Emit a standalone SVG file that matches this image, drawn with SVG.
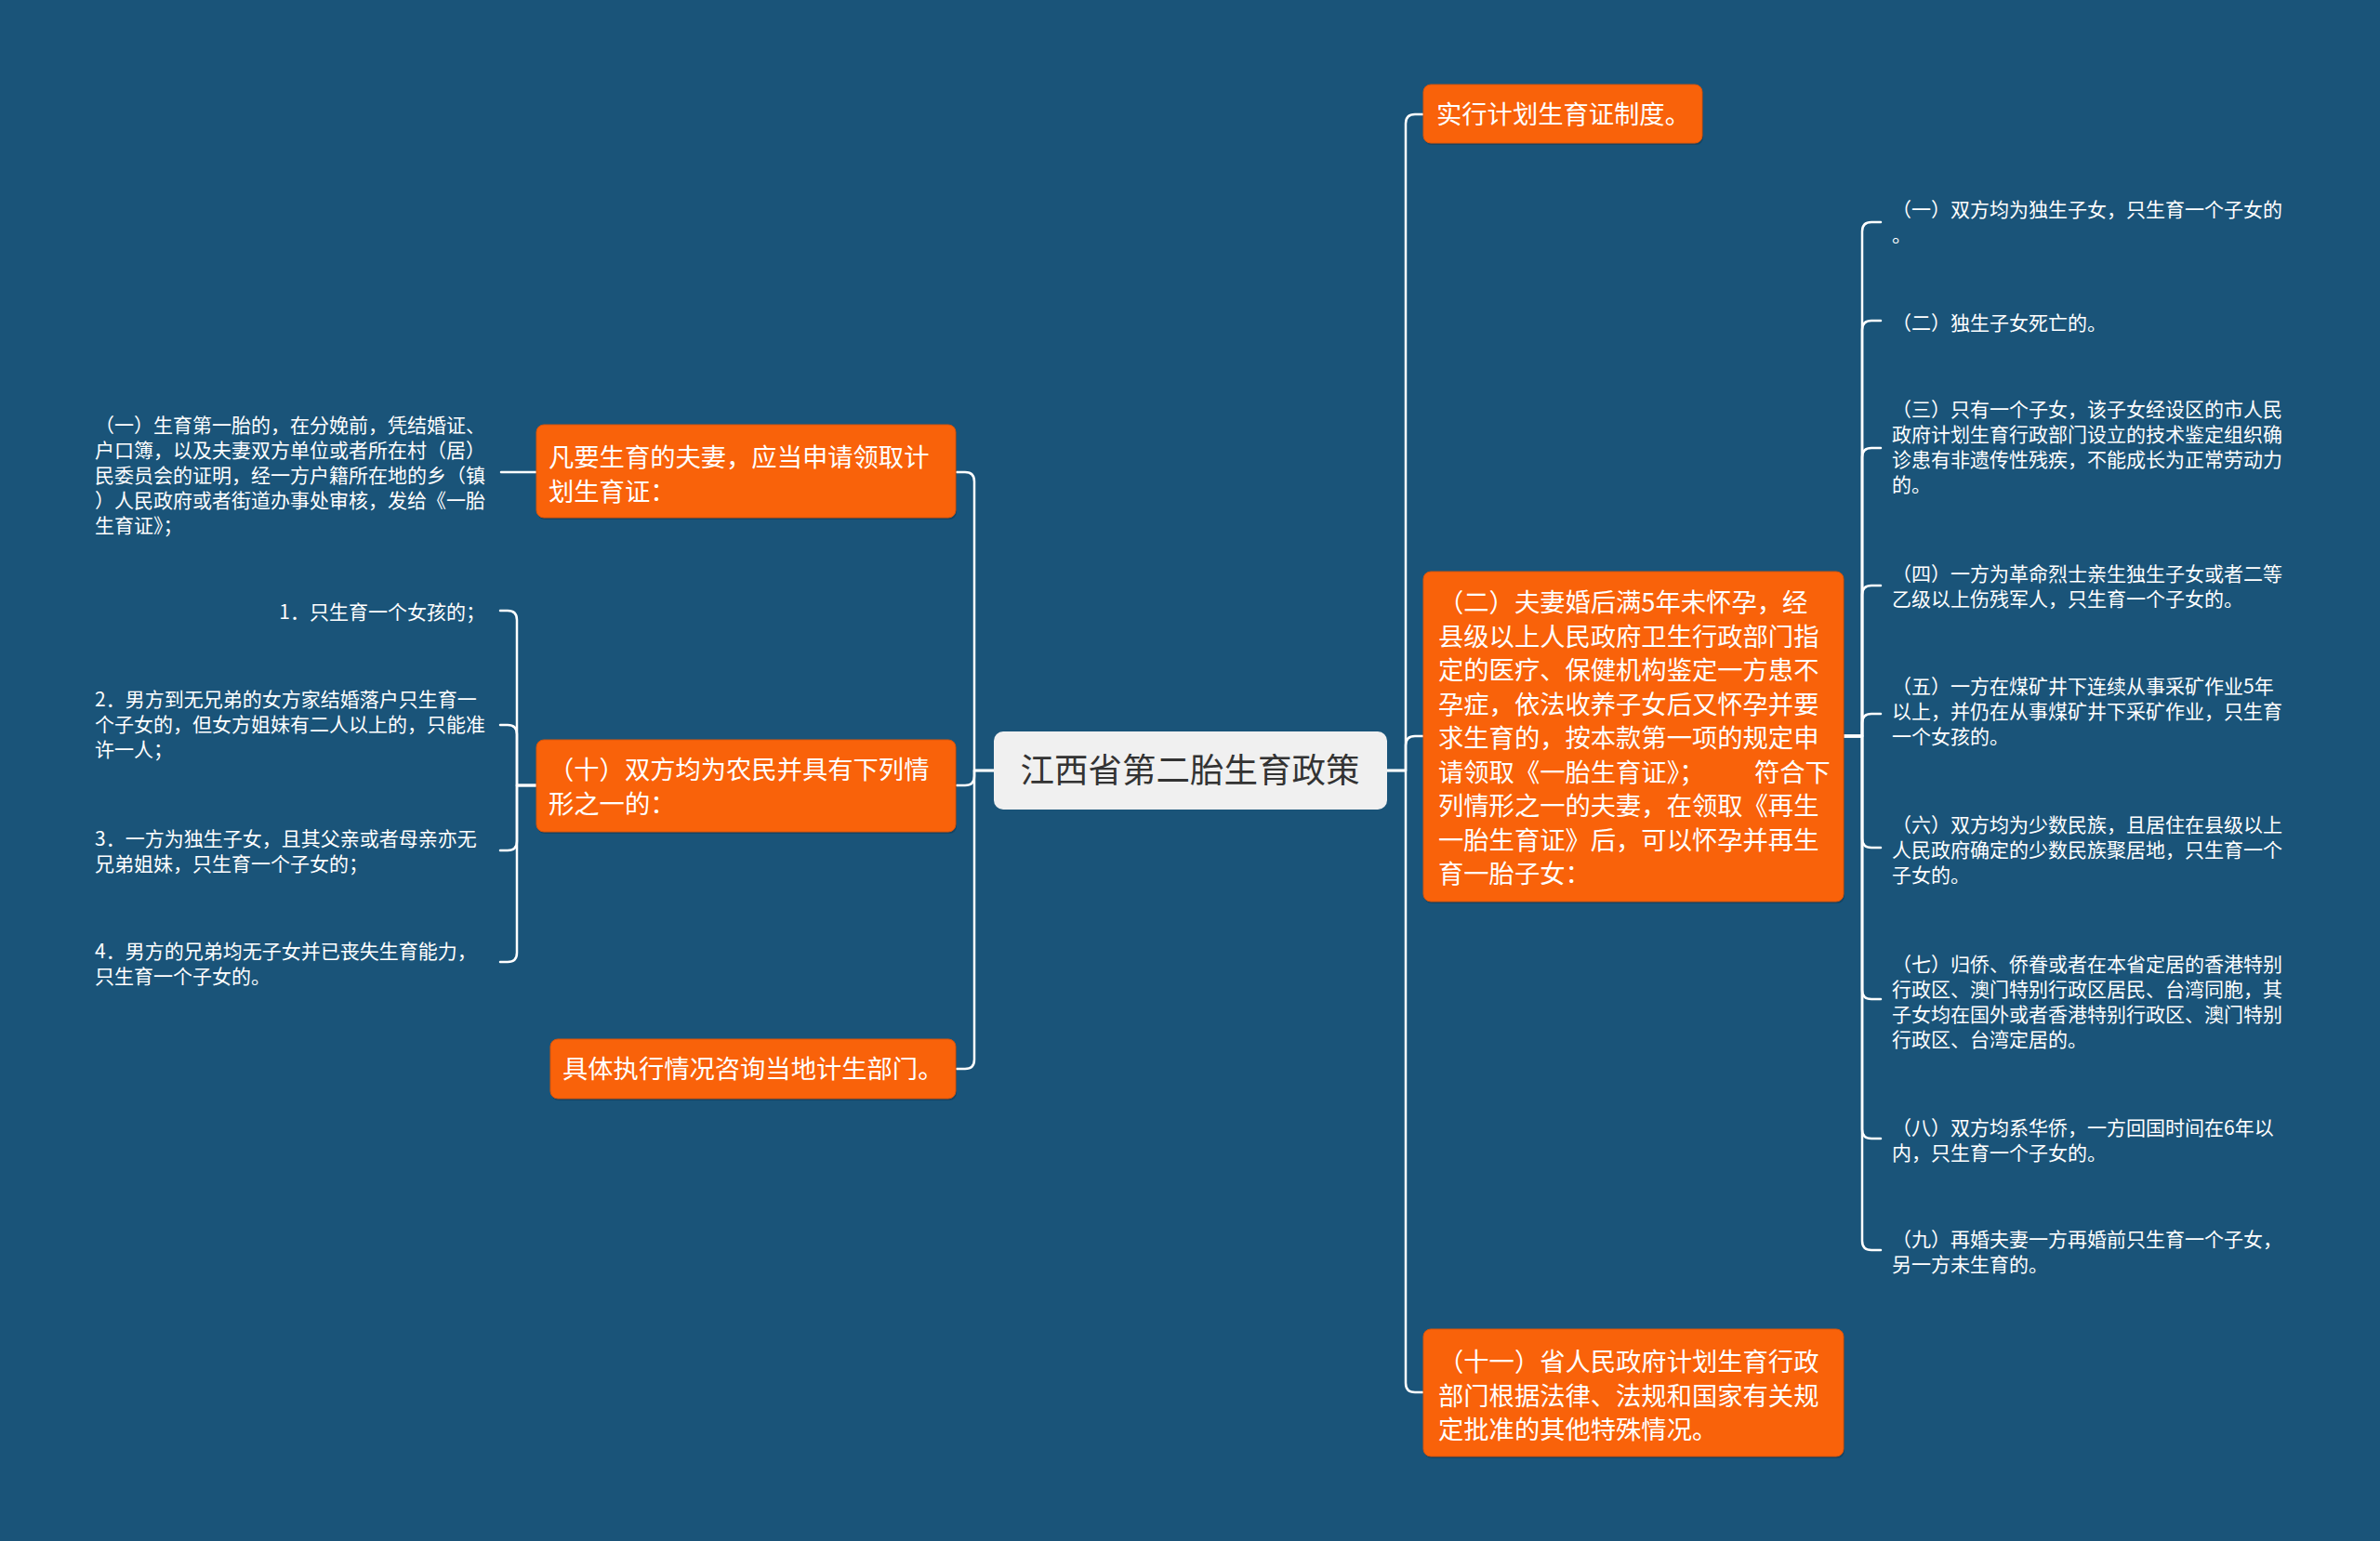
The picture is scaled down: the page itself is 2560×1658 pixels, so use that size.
<svg xmlns="http://www.w3.org/2000/svg" width="2560" height="1658" viewBox="0 0 2560 1658">
<style>
.bg{fill:#1a5479}
.box{fill:#f9620a;stroke:#d9540a;stroke-width:1}
.shadow{fill:#000;opacity:0.18}
.t{font-family:"Noto Sans CJK SC","Noto Sans",sans-serif;fill:#ffffff}
.nt{font-size:27.3px}
.st{font-size:21px}
.ct{font-family:"Noto Sans CJK SC","Noto Sans",sans-serif;font-size:36.5px;fill:#333333}
.c{fill:none;stroke:#ffffff;stroke-width:2.5;stroke-linecap:round;stroke-linejoin:round}
</style>
<rect class="bg" x="0" y="0" width="2560" height="1658"/>
<g id="connectors">
  <path class="c" d="M1492,829 H1512 V133 Q1512,123 1522,123 H1531"/>
  <path class="c" d="M1492,829 H1512 V802 Q1512,792 1522,792 H1531"/>
  <path class="c" d="M1492,829 H1512 V1488 Q1512,1498 1522,1498 H1531"/>
  <path class="c" d="M1983,792 H2003 V249 Q2003,239 2013,239 H2023"/>
  <path class="c" d="M1983,792 H2003 V355 Q2003,345 2013,345 H2023"/>
  <path class="c" d="M1983,792 H2003 V492 Q2003,482 2013,482 H2023"/>
  <path class="c" d="M1983,792 H2003 V640 Q2003,630 2013,630 H2023"/>
  <path class="c" d="M1983,792 H2003 V778 Q2003,768 2013,768 H2023"/>
  <path class="c" d="M1983,792 H2003 V902 Q2003,912 2013,912 H2023"/>
  <path class="c" d="M1983,792 H2003 V1065 Q2003,1075 2013,1075 H2023"/>
  <path class="c" d="M1983,792 H2003 V1215 Q2003,1225 2013,1225 H2023"/>
  <path class="c" d="M1983,792 H2003 V1335 Q2003,1345 2013,1345 H2023"/>
  <path class="c" d="M1069,829 H1048 V518 Q1048,508 1038,508 H1029"/>
  <path class="c" d="M1069,829 H1048 V835 Q1048,845 1038,845 H1029"/>
  <path class="c" d="M1069,829 H1048 V1140 Q1048,1150 1038,1150 H1029"/>
  <path class="c" d="M577,508 H539"/>
  <path class="c" d="M577,845 H556 V667 Q556,657 546,657 H538"/>
  <path class="c" d="M577,845 H556 V790 Q556,780 546,780 H538"/>
  <path class="c" d="M577,845 H556 V905 Q556,915 546,915 H538"/>
  <path class="c" d="M577,845 H556 V1025 Q556,1035 546,1035 H538"/>
</g>

<g id="central">
  <rect x="1069" y="787" width="423" height="84" rx="10" fill="#f0f0f0"/>
  <text class="ct" x="1280" y="842" text-anchor="middle">江西省第二胎生育政策</text>
</g>

<g id="r1">
  <rect class="shadow" x="1532" y="93" width="300" height="63" rx="8"/>
  <rect class="box" x="1531" y="91" width="300" height="63" rx="8"/>
  <text class="t nt" x="1545" y="133">实行计划生育证制度。</text>
</g>

<g id="r2">
  <rect class="shadow" x="1532" y="617" width="452" height="355" rx="8"/>
  <rect class="box" x="1531" y="615" width="452" height="355" rx="8"/>
  <text class="t nt">
    <tspan x="1547" y="658">（二）夫妻婚后满5年未怀孕，经</tspan>
    <tspan x="1547" y="694.5">县级以上人民政府卫生行政部门指</tspan>
    <tspan x="1547" y="731">定的医疗、保健机构鉴定一方患不</tspan>
    <tspan x="1547" y="767.5">孕症，依法收养子女后又怀孕并要</tspan>
    <tspan x="1547" y="804">求生育的，按本款第一项的规定申</tspan>
    <tspan x="1547" y="840.5">请领取《一胎生育证》；</tspan><tspan x="1887" y="840.5">符合下</tspan>
    <tspan x="1547" y="877">列情形之一的夫妻，在领取《再生</tspan>
    <tspan x="1547" y="913.5">一胎生育证》后，可以怀孕并再生</tspan>
    <tspan x="1547" y="950">育一胎子女：</tspan>
  </text>
</g>

<g id="r3">
  <rect class="shadow" x="1532" y="1432" width="452" height="137" rx="8"/>
  <rect class="box" x="1531" y="1430" width="452" height="137" rx="8"/>
  <text class="t nt">
    <tspan x="1547" y="1475">（十一）省人民政府计划生育行政</tspan>
    <tspan x="1547" y="1511.5">部门根据法律、法规和国家有关规</tspan>
    <tspan x="1547" y="1548">定批准的其他特殊情况。</tspan>
  </text>
</g>

<g id="r2c1"><text class="t st"><tspan x="2035" y="233">（一）双方均为独生子女，只生育一个子女的</tspan><tspan x="2035" y="260">。</tspan></text></g>
<g id="r2c2"><text class="t st"><tspan x="2035" y="355">（二）独生子女死亡的。</tspan></text></g>
<g id="r2c3"><text class="t st">
  <tspan x="2035" y="448">（三）只有一个子女，该子女经设区的市人民</tspan>
  <tspan x="2035" y="475">政府计划生育行政部门设立的技术鉴定组织确</tspan>
  <tspan x="2035" y="502">诊患有非遗传性残疾，不能成长为正常劳动力</tspan>
  <tspan x="2035" y="529">的。</tspan></text></g>
<g id="r2c4"><text class="t st">
  <tspan x="2035" y="625">（四）一方为革命烈士亲生独生子女或者二等</tspan>
  <tspan x="2035" y="652">乙级以上伤残军人，只生育一个子女的。</tspan></text></g>
<g id="r2c5"><text class="t st">
  <tspan x="2035" y="746">（五）一方在煤矿井下连续从事采矿作业5年</tspan>
  <tspan x="2035" y="773">以上，并仍在从事煤矿井下采矿作业，只生育</tspan>
  <tspan x="2035" y="800">一个女孩的。</tspan></text></g>
<g id="r2c6"><text class="t st">
  <tspan x="2035" y="895">（六）双方均为少数民族，且居住在县级以上</tspan>
  <tspan x="2035" y="922">人民政府确定的少数民族聚居地，只生育一个</tspan>
  <tspan x="2035" y="949">子女的。</tspan></text></g>
<g id="r2c7"><text class="t st">
  <tspan x="2035" y="1045">（七）归侨、侨眷或者在本省定居的香港特别</tspan>
  <tspan x="2035" y="1072">行政区、澳门特别行政区居民、台湾同胞，其</tspan>
  <tspan x="2035" y="1099">子女均在国外或者香港特别行政区、澳门特别</tspan>
  <tspan x="2035" y="1126">行政区、台湾定居的。</tspan></text></g>
<g id="r2c8"><text class="t st">
  <tspan x="2035" y="1221">（八）双方均系华侨，一方回国时间在6年以</tspan>
  <tspan x="2035" y="1248">内，只生育一个子女的。</tspan></text></g>
<g id="r2c9"><text class="t st">
  <tspan x="2035" y="1341">（九）再婚夫妻一方再婚前只生育一个子女，</tspan>
  <tspan x="2035" y="1368">另一方未生育的。</tspan></text></g>

<g id="l1">
  <rect class="shadow" x="578" y="459" width="451" height="100" rx="8"/>
  <rect class="box" x="577" y="457" width="451" height="100" rx="8"/>
  <text class="t nt">
    <tspan x="590" y="502">凡要生育的夫妻，应当申请领取计</tspan>
    <tspan x="590" y="538.5">划生育证：</tspan>
  </text>
</g>
<g id="l1c1"><text class="t st">
  <tspan x="102" y="465">（一）生育第一胎的，在分娩前，凭结婚证、</tspan>
  <tspan x="102" y="492">户口簿，以及夫妻双方单位或者所在村（居）</tspan>
  <tspan x="102" y="519">民委员会的证明，经一方户籍所在地的乡（镇</tspan>
  <tspan x="102" y="546">）人民政府或者街道办事处审核，发给《一胎</tspan>
  <tspan x="102" y="573">生育证》；</tspan></text></g>

<g id="l2">
  <rect class="shadow" x="578" y="798" width="451" height="99" rx="8"/>
  <rect class="box" x="577" y="796" width="451" height="99" rx="8"/>
  <text class="t nt">
    <tspan x="590" y="838">（十）双方均为农民并具有下列情</tspan>
    <tspan x="590" y="875">形之一的：</tspan>
  </text>
</g>
<g id="l2c1"><text class="t st" x="522" y="666" text-anchor="end">1．只生育一个女孩的；</text></g>
<g id="l2c2"><text class="t st">
  <tspan x="102" y="760">2．男方到无兄弟的女方家结婚落户只生育一</tspan>
  <tspan x="102" y="787">个子女的，但女方姐妹有二人以上的，只能准</tspan>
  <tspan x="102" y="814">许一人；</tspan></text></g>
<g id="l2c3"><text class="t st">
  <tspan x="102" y="910">3．一方为独生子女，且其父亲或者母亲亦无</tspan>
  <tspan x="102" y="937">兄弟姐妹，只生育一个子女的；</tspan></text></g>
<g id="l2c4"><text class="t st">
  <tspan x="102" y="1031">4．男方的兄弟均无子女并已丧失生育能力，</tspan>
  <tspan x="102" y="1058">只生育一个子女的。</tspan></text></g>

<g id="l3">
  <rect class="shadow" x="593" y="1120" width="436" height="64" rx="8"/>
  <rect class="box" x="592" y="1118" width="436" height="64" rx="8"/>
  <text class="t nt" x="605" y="1160">具体执行情况咨询当地计生部门。</text>
</g>
</svg>
